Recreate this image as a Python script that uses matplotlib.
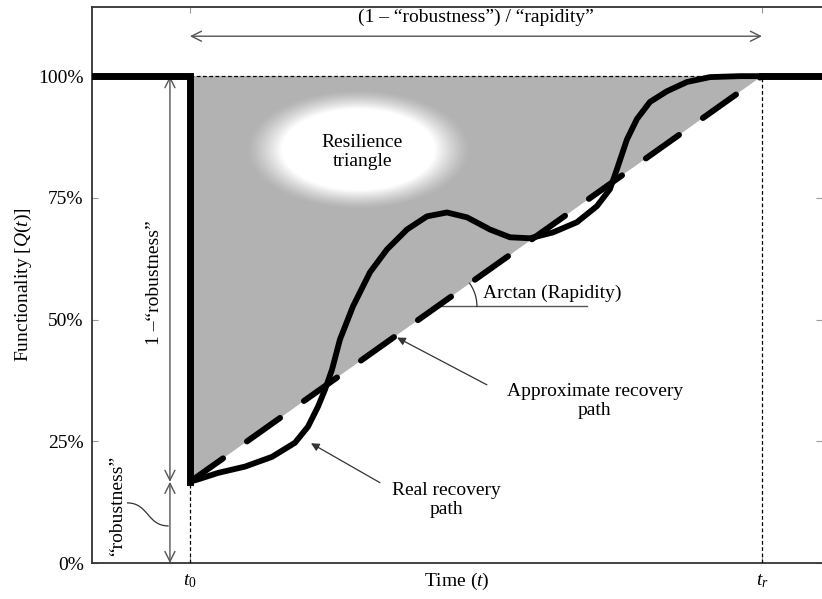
import matplotlib
matplotlib.use("Agg")
import matplotlib.pyplot as plt
import numpy as np
from matplotlib.path import Path
from matplotlib.patches import PathPatch, Polygon

plt.rcParams["font.family"] = ["Liberation Serif", "DejaVu Serif"]
plt.rcParams["mathtext.fontset"] = "custom"
plt.rcParams["mathtext.rm"] = "Liberation Serif"
plt.rcParams["mathtext.it"] = "Liberation Serif:italic"

# event time, full recovery time, residual functionality (robustness)
t0 = 1.342
tr = 9.178
robust = 16.67
full = 100.0

# real recovery path
real_t = [1.342, 1.479, 1.726, 2.096, 2.466, 2.781, 2.959, 3.096, 3.192, 3.288,
          3.397, 3.575, 3.808, 4.041, 4.315, 4.589, 4.863, 5.137, 5.315, 5.452,
          5.726, 6.000, 6.315, 6.644, 6.918, 7.096, 7.192, 7.329, 7.466, 7.644,
          7.877, 8.151, 8.466, 8.877, 9.178]
real_q = [16.7, 17.3, 18.5, 19.8, 21.8, 24.7, 28.0, 32.1, 35.6, 39.7,
          45.9, 52.7, 59.7, 64.4, 68.5, 71.2, 72.0, 71.0, 69.6, 68.5,
          66.9, 66.7, 67.9, 70.0, 73.3, 76.8, 80.9, 87.0, 91.2, 94.7,
          96.9, 98.8, 99.8, 100.0, 100.0]

yticks = [0, 25, 50, 75, 100]
ytick_labels = ["0%", "25%", "50%", "75%", "100%"]
xticks = [t0, tr]
xtick_labels = [r"$t_{\mathit{0}}$", r"$t_{\mathit{r}}$"]

XMAX = 10.0
YMAX = 114.2
fs = 14
gray = "#555555"

fig = plt.figure(figsize=(8.22, 5.99), dpi=100)
ax = fig.add_axes([0.1119, 0.0601, 0.888, 0.9282])

# resilience triangle
tri = Polygon([[t0, full], [tr, full], [t0, robust]], closed=True,
              facecolor="#b2b2b2", edgecolor="none", zorder=1)
ax.add_patch(tri)

# white glow behind the label
gx0, gy0, ax_r, ay_r = 3.65, 84.8, 1.08, 8.6
ext = [gx0 - 1.7 * ax_r, gx0 + 1.7 * ax_r, gy0 - 1.7 * ay_r, gy0 + 1.7 * ay_r]
xx, yy = np.meshgrid(np.linspace(-1.7, 1.7, 300), np.linspace(-1.7, 1.7, 300))
rr = np.sqrt(xx ** 2 + yy ** 2)
alpha = np.clip((1.42 - rr) / 0.45, 0, 1) ** 1.3
img = np.ones((300, 300, 4))
img[..., 3] = alpha
ax.imshow(img, extent=ext, aspect="auto", origin="lower", zorder=2,
          interpolation="bilinear")
ax.text(3.70, 84.4, "Resilience\ntriangle", ha="center", va="center",
        fontsize=fs, linespacing=1.1, zorder=3)

# thin dashed top of triangle and vertical guides
ax.plot([t0, tr], [full, full], color="black", lw=0.9, ls=(0, (3, 2)), zorder=3)
ax.plot([t0, t0], [0, robust], color="black", lw=0.9, ls=(0, (3, 2)), zorder=3)
ax.plot([tr, tr], [0, full], color="black", lw=0.9, ls=(0, (3, 2)), zorder=3)

# approximate (linear) recovery path
ax.plot([t0, tr], [robust, full], color="black", lw=4.3,
        dashes=(6.8, 4.9), solid_capstyle="round", dash_capstyle="round", zorder=4)

# functionality step and real recovery path
ax.plot([0, t0, t0], [full, full, robust], color="black", lw=5.0,
        solid_joinstyle="miter", zorder=5)
ax.plot([tr, XMAX], [full, full], color="black", lw=5.0, zorder=5)
ax.plot(real_t, real_q, color="black", lw=4.2, solid_capstyle="round",
        solid_joinstyle="round", zorder=5)

# double arrows
arr = dict(arrowstyle="<->", color=gray, lw=1.0, mutation_scale=18,
           shrinkA=0, shrinkB=0)
ax.annotate("", xy=(t0, 108.2), xytext=(tr, 108.2), arrowprops=arr)
ax.text((t0 + tr) / 2, 112.1, "(1 – “robustness”) / “rapidity”",
        ha="center", va="center", fontsize=fs)
xv = 1.068
ax.annotate("", xy=(xv, full), xytext=(xv, robust), arrowprops=arr)
ax.annotate("", xy=(xv, robust), xytext=(xv, 0), arrowprops=arr)
ax.text(0.863, 57.5, "1 –“robustness”", rotation=90, ha="center", va="center",
        fontsize=fs)
ax.text(0.356, 11.7, "“robustness”", rotation=90, ha="center", va="center",
        fontsize=fs)
conn = Path([(0.479, 12.35), (0.78, 12.35), (0.75, 7.61), (1.05, 7.61)],
            [Path.MOVETO, Path.CURVE4, Path.CURVE4, Path.CURVE4])
ax.add_patch(PathPatch(conn, facecolor="none", edgecolor="#333333", lw=0.9))

# rapidity angle
ax.plot([4.726, 6.78], [52.7, 52.7], color=gray, lw=1.0, zorder=3)
th = np.linspace(0, np.deg2rad(35.3), 30)
ax.plot(4.726 + 0.548 * np.cos(th), 52.7 + 8.23 * np.sin(th), color="#333333",
        lw=0.9, zorder=3)
ax.text(5.356, 55.3, "Arctan (Rapidity)", ha="left", va="center", fontsize=fs)

# path labels
pointer = dict(arrowstyle="-|>", color="#333333", lw=0.9, mutation_scale=12,
               shrinkA=0, shrinkB=0)
ax.annotate("", xy=(4.18, 46.3), xytext=(5.41, 36.6), arrowprops=pointer, zorder=6)
ax.text(6.89, 33.3, "Approximate recovery\npath", ha="center", va="center",
        fontsize=fs, linespacing=1.15)
ax.annotate("", xy=(3.0, 24.6), xytext=(3.945, 16.5), arrowprops=pointer, zorder=6)
ax.text(4.86, 13.0, "Real recovery\npath", ha="center", va="center",
        fontsize=fs, linespacing=1.15)

ax.set_xlim(0, XMAX)
ax.set_ylim(0, YMAX)
ax.set_yticks(yticks)
ax.set_yticklabels(ytick_labels, fontsize=fs)
ax.set_xticks(xticks)
ax.set_xticklabels(xtick_labels, fontsize=fs)
ax.tick_params(axis="both", direction="in", length=4, width=0.8, color="#999999",
               top=True, right=True)
ax.tick_params(axis="y", pad=6)
ax.tick_params(axis="x", pad=7)
for side in ["left", "top", "bottom"]:
    ax.spines[side].set_color("#333333")
    ax.spines[side].set_linewidth(1.3)
ax.spines["right"].set_visible(False)

ax.set_xlabel(r"Time ($\mathit{t}$)", fontsize=fs, labelpad=-14)
ax.set_ylabel(r"Functionality [$\mathit{Q}$($\mathit{t}$)]", fontsize=fs, labelpad=3)

fig.savefig("out.png", dpi=100)
